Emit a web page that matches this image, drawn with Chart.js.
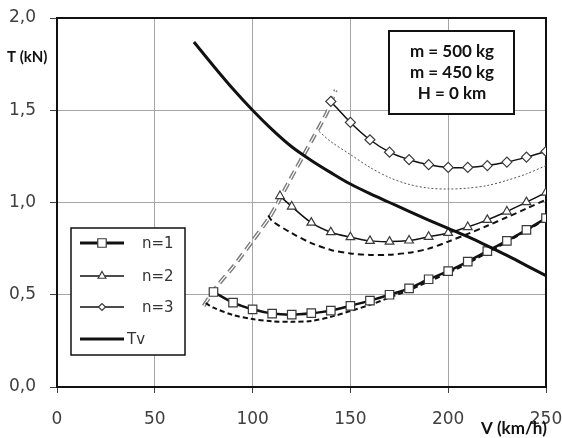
<!DOCTYPE html>
<html>
<head>
<meta charset="utf-8">
<script src="https://cdn.jsdelivr.net/npm/chart.js@4.4.0/dist/chart.umd.min.js"></script>
<style>
  html, body { margin: 0; padding: 0; background: #fff; }
  #wrap { width: 562px; height: 438px; position: relative; }
</style>
</head>
<body>
<div id="wrap"><canvas id="thrust"></canvas></div>
<script>
// Thrust T (kN) versus speed V (km/h)
var n1Speed = [80, 90, 100, 110, 120, 130, 140, 150, 160, 170, 180, 190, 200, 210, 220, 230, 240, 250];
var n1Thrust = [0.515, 0.457, 0.421, 0.398, 0.392, 0.400, 0.414, 0.440, 0.468, 0.500, 0.535, 0.584, 0.628, 0.680, 0.736, 0.792, 0.852, 0.915];

var n1DashSpeed = [76, 80, 90, 100, 110, 120, 130, 140, 150, 160, 170, 180, 190, 200, 210, 220, 230, 240, 250];
var n1DashThrust = [0.455, 0.430, 0.390, 0.368, 0.356, 0.353, 0.358, 0.380, 0.412, 0.445, 0.485, 0.525, 0.572, 0.618, 0.670, 0.728, 0.786, 0.847, 0.910];

var n2Speed = [114, 120, 130, 140, 150, 160, 170, 180, 190, 200, 210, 220, 230, 240, 250];
var n2Thrust = [1.035, 0.978, 0.891, 0.839, 0.812, 0.792, 0.788, 0.794, 0.814, 0.835, 0.867, 0.906, 0.951, 1.002, 1.054];

var n2DashSpeed = [108, 110, 120, 130, 140, 150, 160, 170, 180, 190, 200, 210, 220, 230, 240, 250];
var n2DashThrust = [0.930, 0.900, 0.834, 0.780, 0.743, 0.724, 0.716, 0.717, 0.728, 0.750, 0.788, 0.830, 0.874, 0.920, 0.967, 1.015];

var n3Speed = [140, 150, 160, 170, 180, 190, 200, 210, 220, 230, 240, 250];
var n3Thrust = [1.548, 1.434, 1.340, 1.273, 1.232, 1.205, 1.190, 1.190, 1.200, 1.219, 1.246, 1.277];

var n3DotSpeed = [134, 140, 150, 160, 170, 180, 190, 200, 210, 220, 230, 240, 250];
var n3DotThrust = [1.385, 1.330, 1.260, 1.190, 1.135, 1.098, 1.078, 1.073, 1.078, 1.092, 1.120, 1.155, 1.200];

var tvSpeed = [70, 80, 90, 100, 110, 120, 130, 140, 150, 160, 170, 180, 190, 200, 210, 220, 230, 240, 250];
var tvThrust = [1.870, 1.740, 1.615, 1.500, 1.395, 1.302, 1.228, 1.162, 1.100, 1.048, 1.000, 0.952, 0.905, 0.860, 0.815, 0.765, 0.713, 0.658, 0.603];

var limitSpeed = [75, 81.6, 90, 100.4, 108.9, 112.3, 120, 127.6, 137.9, 142.5];
var limitThrust = [0.440, 0.544, 0.650, 0.798, 0.924, 0.987, 1.140, 1.286, 1.485, 1.610];

var xTicks = [0, 50, 100, 150, 200, 250];
var yTicks = [0, 0.5, 1.0, 1.5, 2.0];

var legendLabels = ['n=1', 'n=2', 'n=3', 'Tv'];
var infoLines = ['m = 500 kg', 'm = 450 kg', 'H = 0 km'];

function pairs(xs, ys) {
  return xs.map(function (x, i) { return { x: x, y: ys[i] }; });
}

var markerColor = '#3a3a3a';

// frame round the plot area
var framePlugin = {
  id: 'frame',
  beforeDatasetsDraw: function (chart) {
    var a = chart.chartArea, ctx = chart.ctx;
    ctx.save();
    ctx.strokeStyle = '#111';
    ctx.lineWidth = 2;
    ctx.strokeRect(a.left, a.top, a.right - a.left, a.bottom - a.top);
    ctx.restore();
  }
};

// axis titles, info box and the legend inside the plot
var notesPlugin = {
  id: 'notes',
  afterDraw: function (chart) {
    var ctx = chart.ctx;
    var H = Chart.helpers;
    ctx.save();

    ctx.fillStyle = '#111';
    ctx.textBaseline = 'middle';
    ctx.textAlign = 'left';
    ctx.font = 'bold 15px Lato';
    ctx.fillText('T (kN)', 7, 57);
    ctx.font = 'bold 17px Lato';
    ctx.fillText('V (km/h)', 481, 429);

    // info box
    ctx.fillStyle = '#fff';
    ctx.fillRect(389, 31, 125, 83);
    ctx.strokeStyle = '#111';
    ctx.lineWidth = 2;
    ctx.strokeRect(389, 31, 125, 83);
    ctx.fillStyle = '#111';
    ctx.textAlign = 'center';
    ctx.font = 'bold 17px Lato';
    ctx.fillText(infoLines[0], 452, 52);
    ctx.fillText(infoLines[1], 452, 73);
    ctx.fillText(infoLines[2], 452, 94);

    // legend
    ctx.fillStyle = '#fff';
    ctx.fillRect(71, 228, 114, 127);
    ctx.strokeStyle = '#111';
    ctx.lineWidth = 1.5;
    ctx.strokeRect(71, 228, 114, 127);

    var rows = [
      { y: 243, lw: 3, style: 'rect', r: 6, tx: 142 },
      { y: 276, lw: 1.5, style: 'triangle', r: 4.5, tx: 142 },
      { y: 307, lw: 1.5, style: 'rectRot', r: 3.5, tx: 142 },
      { y: 339, lw: 3, style: null, r: 0, tx: 127 }
    ];
    rows.forEach(function (row, i) {
      ctx.strokeStyle = '#111';
      ctx.lineWidth = row.lw;
      ctx.beginPath();
      ctx.moveTo(80, row.y);
      ctx.lineTo(124, row.y);
      ctx.stroke();
      if (row.style) {
        ctx.fillStyle = '#fff';
        ctx.strokeStyle = markerColor;
        ctx.lineWidth = 1.2;
        H.drawPoint(ctx, { pointStyle: row.style, radius: row.r, rotation: 0, borderWidth: 1.2 }, 102, row.y);
      }
      ctx.fillStyle = '#333';
      ctx.textAlign = 'left';
      ctx.font = '15px "DejaVu Sans"';
      ctx.fillText(legendLabels[i], row.tx, row.y + 1);
    });

    ctx.restore();
  }
};

var thrustCtx = document.getElementById('thrust').getContext('2d');
var chart = new Chart(thrustCtx, {
  type: 'scatter',
  data: {
    datasets: [
      {
        label: 'Tv',
        data: pairs(tvSpeed, tvThrust),
        showLine: true, borderColor: '#111', borderWidth: 3,
        pointRadius: 0, cubicInterpolationMode: 'monotone', order: 1
      },
      {
        label: 'n=1',
        data: pairs(n1Speed, n1Thrust),
        showLine: true, borderColor: '#111', borderWidth: 2.5,
        pointStyle: 'rect', pointRadius: 6, pointBackgroundColor: '#fff',
        pointBorderColor: markerColor, pointBorderWidth: 1.2,
        tension: 0.3, order: 2
      },
      {
        label: 'n=2',
        data: pairs(n2Speed, n2Thrust),
        showLine: true, borderColor: '#111', borderWidth: 1.5,
        pointStyle: 'triangle', pointRadius: 5, pointBackgroundColor: '#fff',
        pointBorderColor: markerColor, pointBorderWidth: 1.2,
        tension: 0.3, order: 3
      },
      {
        label: 'n=3',
        data: pairs(n3Speed, n3Thrust),
        showLine: true, borderColor: '#111', borderWidth: 1.5,
        pointStyle: 'rectRot', pointRadius: 5, pointBackgroundColor: '#fff',
        pointBorderColor: markerColor, pointBorderWidth: 1.2,
        tension: 0.3, order: 4
      },
      {
        label: 'n=1 dashed',
        data: pairs(n1DashSpeed, n1DashThrust),
        showLine: true, borderColor: '#111', borderWidth: 2, borderDash: [5, 3],
        pointRadius: 0, tension: 0.3, order: 5
      },
      {
        label: 'n=2 dashed',
        data: pairs(n2DashSpeed, n2DashThrust),
        showLine: true, borderColor: '#111', borderWidth: 2, borderDash: [6, 4],
        pointRadius: 0, tension: 0.3, order: 6
      },
      {
        label: 'n=3 dotted',
        data: pairs(n3DotSpeed, n3DotThrust),
        showLine: true, borderColor: '#555', borderWidth: 1, borderDash: [2, 2],
        pointRadius: 0, tension: 0.3, order: 7
      },
      {
        label: 'limit inner',
        data: pairs(limitSpeed, limitThrust),
        showLine: true, borderColor: '#fff', borderWidth: 1.2, borderDash: [9, 5],
        pointRadius: 0, tension: 0.2, order: 8
      },
      {
        label: 'limit',
        data: pairs(limitSpeed, limitThrust),
        showLine: true, borderColor: '#7a7a7a', borderWidth: 4, borderDash: [9, 5],
        pointRadius: 0, tension: 0.2, order: 9
      }
    ]
  },
  plugins: [framePlugin, notesPlugin],
  options: {
    responsive: true,
    maintainAspectRatio: false,
    animation: false,
    devicePixelRatio: 1,
    layout: { padding: { left: 0, top: 18, right: 16, bottom: 0 } },
    plugins: {
      legend: { display: false },
      tooltip: { enabled: false }
    },
    scales: {
      x: {
        type: 'linear', min: 0, max: 250,
        afterBuildTicks: function (s) { s.ticks = xTicks.map(function (v) { return { value: v }; }); },
        afterFit: function (s) { s.height = 51; s.paddingLeft = 0; s.paddingRight = 0; },
        ticks: { color: '#404040', font: { family: 'DejaVu Sans', size: 17 }, padding: 16, maxRotation: 0 },
        grid: { color: '#a6a6a6', lineWidth: 1, tickLength: 6, tickColor: '#404040' },
        border: { display: false }
      },
      y: {
        type: 'linear', min: 0, max: 2,
        afterBuildTicks: function (s) { s.ticks = yTicks.map(function (v) { return { value: v }; }); },
        afterFit: function (s) { s.width = 57; s.paddingTop = 0; s.paddingBottom = 0; },
        ticks: {
          color: '#404040', font: { family: 'DejaVu Sans', size: 17 }, padding: 14,
          callback: function (v) { return v.toFixed(1).replace('.', ','); }
        },
        grid: { color: '#a6a6a6', lineWidth: 1, tickLength: 7, tickColor: '#404040' },
        border: { display: false }
      }
    }
  }
});
</script>
</body>
</html>
